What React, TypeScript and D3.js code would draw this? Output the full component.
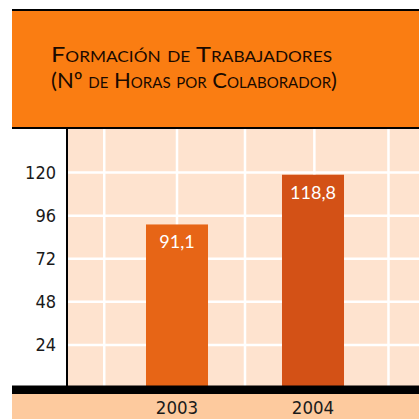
import React from "react";
import * as d3 from "d3";

const years = ["2003", "2004"];
const values = [91.1, 118.8];
const valueLabels = ["91,1", "118,8"];
const yTicks = [24, 48, 72, 96, 120];
const gridX = [-0.535, 0, 0.5, 1.01, 1.555];
const titleLines = ["Formación de Trabajadores", "(Nº de Horas por Colaborador)"];

const W = 419;
const H = 419;

export default function App() {
  const y = d3.scaleLinear().domain([0, 144]).range([388, 129.5]);
  const x = d3
    .scaleBand<string>()
    .domain(years)
    .range([109, 381])
    .paddingInner(0.544)
    .paddingOuter(0.272);
  const xi = d3.scaleLinear().domain([0, 1]).range([177, 313]);
  const barColors = ["#E76516", "#D35116"];
  const numFont = "'Liberation Sans Narrow', 'Arial Narrow', 'DejaVu Sans Condensed', sans-serif";

  return (
    <svg
      width={W}
      height={H}
      style={{ position: "absolute", left: 0, top: 0, background: "#fff" }}
    >
      {/* header */}
      <rect x={12} y={9} width={W - 12} height={120} fill="#000" />
      <rect x={12} y={11} width={W - 12} height={116} fill="#FA7D12" />
      {titleLines.map((t, i) => (
        <text
          key={i}
          x={51}
          y={62 + i * 26}
          fontFamily="Lato, 'Open Sans', sans-serif"
          fontSize={22}
          style={{ fontVariant: "small-caps" }}
          fill="#1a0a00"
          textLength={i === 0 ? 281 : 286}
          lengthAdjust="spacingAndGlyphs"
        >
          {t}
        </text>
      ))}
      {/* plot background */}
      <rect x={68} y={129} width={W - 68} height={257} fill="#FEE3CF" />
      {/* horizontal grid */}
      {yTicks.map((t) => (
        <line key={"h" + t} x1={68} x2={W} y1={y(t)} y2={y(t)} stroke="#fff" strokeWidth={2.5} />
      ))}
      {/* vertical grid */}
      {gridX.map((g, i) => (
        <line key={"v" + i} x1={xi(g)} x2={xi(g)} y1={129} y2={386} stroke="#fff" strokeWidth={2.5} />
      ))}
      {/* bars */}
      {years.map((yr, i) => (
        <rect
          key={yr}
          x={x(yr)}
          y={y(values[i])}
          width={x.bandwidth()}
          height={y(0) - y(values[i])}
          fill={barColors[i]}
        />
      ))}
      {/* value labels */}
      {years.map((yr, i) => (
        <text
          key={"l" + yr}
          x={(x(yr) as number) + x.bandwidth() / 2}
          y={y(values[i]) + 24}
          textAnchor="middle"
          fontFamily="Lato, 'Open Sans', sans-serif"
          fontSize={18}
          fill="#fff"
        >
          {valueLabels[i]}
        </text>
      ))}
      {/* y axis */}
      <rect x={66} y={129} width={2} height={257} fill="#000" />
      {yTicks.map((t) => (
        <text
          key={"t" + t}
          x={56}
          y={y(t)}
          dy="0.35em"
          textAnchor="end"
          fontFamily={numFont}
          fontSize={18}
          fill="#1a1a1a"
        >
          {t}
        </text>
      ))}
      {/* bottom band */}
      <rect x={12} y={385.5} width={W - 12} height={8.5} fill="#000" />
      <rect x={12} y={394} width={W - 12} height={25} fill="#FDCA9E" />
      {years.map((yr) => (
        <text
          key={"x" + yr}
          x={(x(yr) as number) + x.bandwidth() / 2}
          y={413.5}
          textAnchor="middle"
          fontFamily={numFont}
          fontSize={18.5}
          fill="#1a1a1a"
        >
          {yr}
        </text>
      ))}
    </svg>
  );
}
